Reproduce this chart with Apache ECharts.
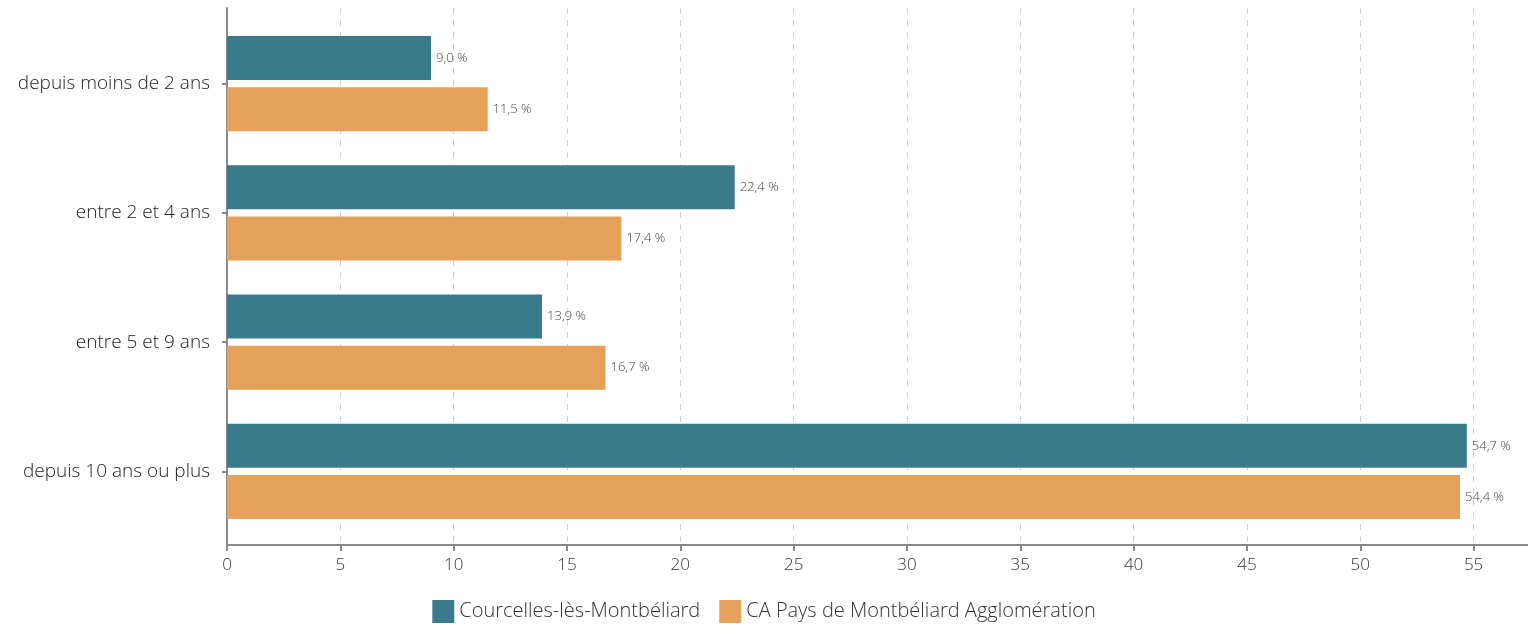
<!DOCTYPE html>
<html>
<head>
<meta charset="utf-8">
<script src="https://cdn.jsdelivr.net/npm/echarts@6/dist/echarts.min.js"></script>
<style>
  html, body { margin: 0; padding: 0; background: #fff; }
  #chart { width: 1528px; height: 628px; }
</style>
</head>
<body>
<div id="chart"></div>
<script>
const categories = ["depuis moins de 2 ans", "entre 2 et 4 ans", "entre 5 et 9 ans", "depuis 10 ans ou plus"];
const seriesNames = ["Courcelles-lès-Montbéliard", "CA Pays de Montbéliard Agglomération"];
const courcelles = [9.0, 22.4, 13.9, 54.7];
const agglo = [11.5, 17.4, 16.7, 54.4];

const FONT = "'Open Sans', 'Noto Sans', sans-serif";
const AXIS_GREY = "#8a8a8a";
const X_MAX = 57.4;

const fmt = v => v.toFixed(1).replace(".", ",") + " %";

const chart = echarts.init(document.getElementById("chart"));

const barLabel = {
  show: true,
  position: "right",
  distance: 5,
  color: "#444",
  fontSize: 13,
  fontWeight: 300,
  fontFamily: FONT,
  formatter: p => fmt(p.value)
};

chart.setOption({
  animation: false,
  textStyle: { fontFamily: FONT },
  legend: {
    bottom: 0,
    left: "center",
    itemWidth: 22,
    itemHeight: 23,
    itemGap: 19,
    icon: "rect",
    textStyle: { fontSize: 20, fontWeight: 300, color: "#333", fontFamily: FONT },
    data: seriesNames
  },
  grid: [
    // frame: axis lines, x ticks and dashed grid
    { left: 227, right: 0, top: 8, bottom: 83 },
    // bars
    { left: 227, right: 0, top: 19, bottom: 92 }
  ],
  xAxis: [
    {
      gridIndex: 0,
      type: "value",
      min: 0,
      max: X_MAX,
      interval: 5,
      axisLine: { show: true, lineStyle: { color: AXIS_GREY, width: 2 } },
      axisTick: { show: true, length: 6, lineStyle: { color: AXIS_GREY, width: 2 } },
      axisLabel: {
        margin: 12,
        fontSize: 17,
        fontWeight: 300,
        color: "#333",
        fontFamily: FONT,
        showMaxLabel: false,
        formatter: v => (v % 5 === 0 ? String(v) : "")
      },
      splitLine: { show: true, lineStyle: { color: "#cfcfcf", type: [6, 6], width: 1 } }
    },
    {
      gridIndex: 1,
      type: "value",
      min: 0,
      max: X_MAX,
      show: false
    }
  ],
  yAxis: [
    {
      gridIndex: 0,
      type: "value",
      axisLine: { show: true, lineStyle: { color: AXIS_GREY, width: 2 } },
      axisTick: { show: false },
      axisLabel: { show: false },
      splitLine: { show: false }
    },
    {
      gridIndex: 1,
      type: "category",
      inverse: true,
      data: categories,
      axisLine: { show: false },
      axisTick: { show: true, alignWithLabel: true, length: 5, lineStyle: { color: AXIS_GREY, width: 2 } },
      axisLabel: { margin: 17, fontSize: 19, fontWeight: 300, color: "#222", fontFamily: FONT }
    }
  ],
  series: [
    {
      name: seriesNames[0],
      type: "bar",
      xAxisIndex: 1,
      yAxisIndex: 1,
      data: courcelles,
      barWidth: 44,
      barGap: "16%",
      itemStyle: { color: "#3a7b8b" },
      label: barLabel
    },
    {
      name: seriesNames[1],
      type: "bar",
      xAxisIndex: 1,
      yAxisIndex: 1,
      data: agglo,
      barWidth: 44,
      barGap: "16%",
      itemStyle: { color: "#e5a05a" },
      label: barLabel
    }
  ]
});
</script>
</body>
</html>
